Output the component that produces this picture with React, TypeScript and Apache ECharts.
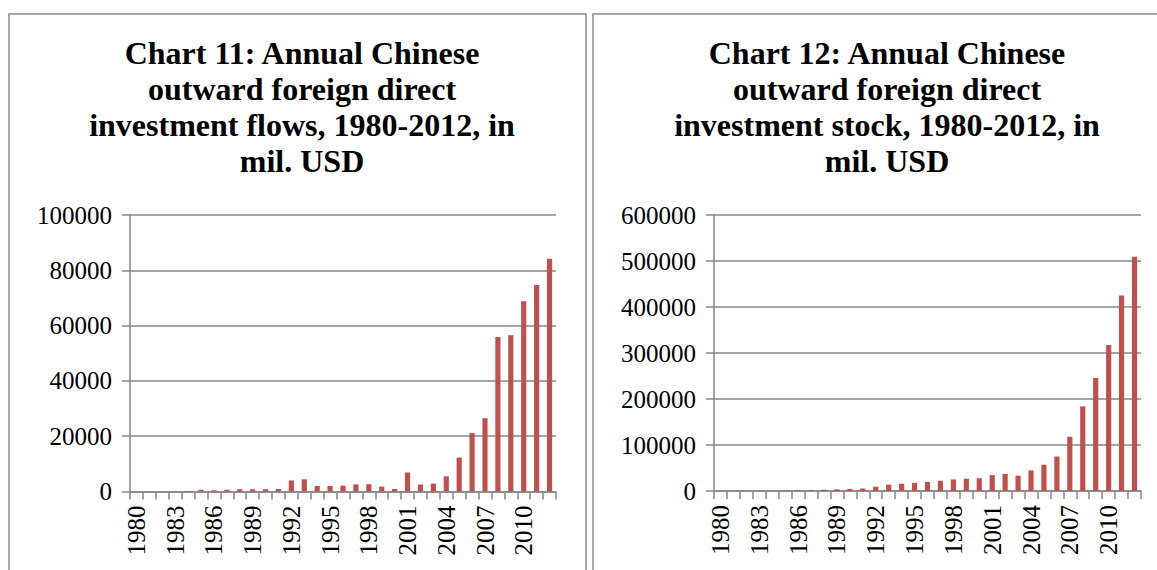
import React, { useEffect, useRef } from "react";
import * as echarts from "echarts";

const years: string[] = [];
for (let y = 1980; y <= 2012; y++) years.push(String(y));

const flows = [
  0, 0, 44, 93, 134, 629, 450, 645, 850, 780, 830, 913, 4000, 4400, 2000, 2000,
  2114, 2562, 2634, 1774, 916, 6885, 2518, 2855, 5498, 12261, 21160, 26510,
  55910, 56530, 68811, 74654, 84220,
];

const stock = [
  0, 0, 44, 137, 271, 900, 1350, 1995, 2845, 3625, 4455, 5368, 9368, 13768,
  15768, 17768, 19882, 22444, 25078, 26853, 27768, 34654, 37172, 33222, 44777,
  57206, 75026, 117911, 183971, 245755, 317211, 424781, 509001,
];

const title1 =
  "Chart 11: Annual Chinese\noutward foreign direct\ninvestment flows, 1980-2012, in\nmil. USD";
const title2 =
  "Chart 12: Annual Chinese\noutward foreign direct\ninvestment stock, 1980-2012, in\nmil. USD";

const FONT = "'Liberation Serif', 'Times New Roman', serif";
const GRAY = "#878787";
const BAR = "#C0504D";

export default function App() {
  const ref = useRef<HTMLDivElement>(null);
  useEffect(() => {
    if (!ref.current) return;
    const chart = echarts.init(ref.current, null, { renderer: "svg" });
    const yAxisBase = (gridIndex: number, max: number, interval: number) => ({
      type: "value",
      gridIndex,
      min: 0,
      max,
      interval,
      axisLine: { show: true, lineStyle: { color: GRAY, width: 1.5 } },
      axisTick: { show: true, length: 8, lineStyle: { color: GRAY, width: 1.5 } },
      axisLabel: {
        color: "#000",
        fontFamily: FONT,
        fontSize: 25,
        margin: 18,
        formatter: (v: number) => String(v),
      },
      splitLine: { show: true, lineStyle: { color: GRAY, width: 1.5 } },
    });
    const xAxisBase = (gridIndex: number) => ({
      type: "category",
      gridIndex,
      data: years,
      boundaryGap: true,
      axisLine: { show: true, lineStyle: { color: GRAY, width: 1.5 } },
      axisTick: {
        show: true,
        interval: 0,
        length: 8,
        alignWithLabel: false,
        lineStyle: { color: GRAY, width: 1.5 },
      },
      axisLabel: {
        color: "#000",
        fontFamily: FONT,
        fontSize: 25,
        rotate: 90,
        interval: 2,
        margin: 14,
      },
    });
    const titleStyle = {
      fontFamily: FONT,
      fontWeight: "bold",
      fontSize: 32,
      lineHeight: 36,
      color: "#000",
    };
    chart.setOption({
      animation: false,
      title: [
        { text: title1, left: 297, top: 30, textAlign: "center", textStyle: titleStyle },
        { text: title2, left: 882, top: 30, textAlign: "center", textStyle: titleStyle },
      ],
      graphic: [
        {
          type: "rect",
          shape: { x: 9, y: 14, width: 577, height: 620 },
          style: { fill: "none", stroke: "#8c8c8c", lineWidth: 1.5 },
          silent: true,
        },
        {
          type: "rect",
          shape: { x: 593, y: 14, width: 620, height: 620 },
          style: { fill: "none", stroke: "#8c8c8c", lineWidth: 1.5 },
          silent: true,
        },
      ],
      grid: [
        { left: 130, top: 215, width: 426, height: 276.5 },
        { left: 714, top: 215, width: 427, height: 276 },
      ],
      xAxis: [xAxisBase(0), xAxisBase(1)],
      yAxis: [yAxisBase(0, 100000, 20000), yAxisBase(1, 600000, 100000)],
      series: [
        {
          type: "bar",
          xAxisIndex: 0,
          yAxisIndex: 0,
          data: flows,
          barWidth: "40%",
          itemStyle: { color: BAR },
        },
        {
          type: "bar",
          xAxisIndex: 1,
          yAxisIndex: 1,
          data: stock,
          barWidth: "40%",
          itemStyle: { color: BAR },
        },
      ],
    });
    return () => chart.dispose();
  }, []);
  return (
    <div
      ref={ref}
      style={{ position: "fixed", left: 0, top: 0, width: 1157, height: 570, background: "#fff" }}
    />
  );
}
